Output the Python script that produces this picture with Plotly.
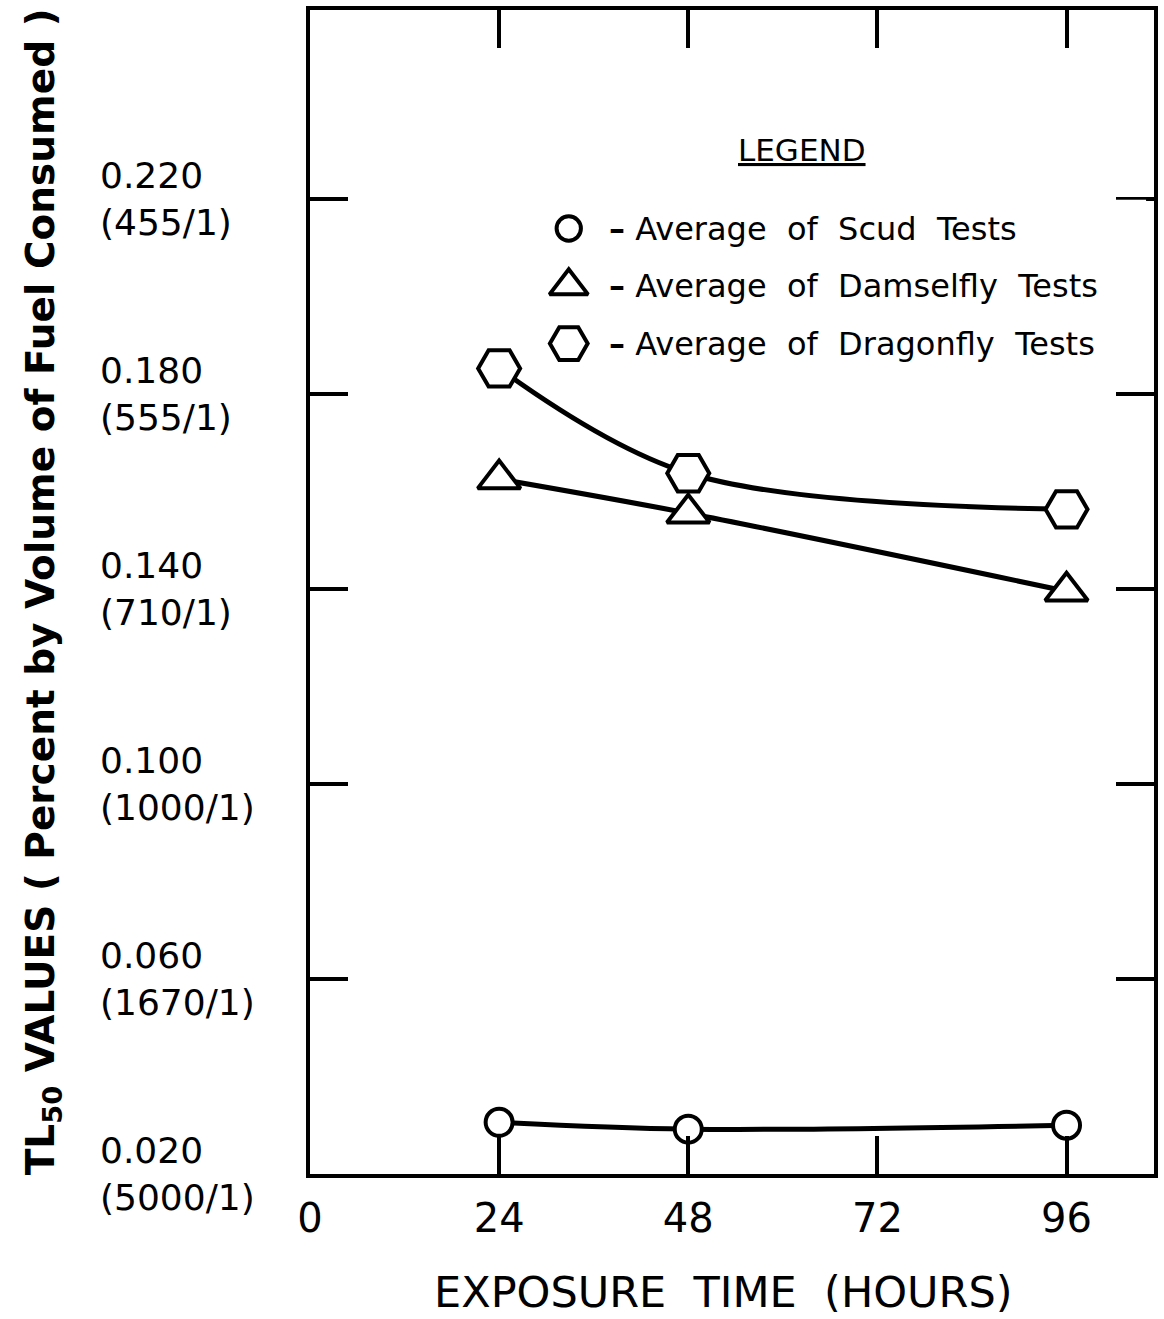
import plotly.graph_objects as go

# ---------------- data ----------------
hours = [24, 48, 96]
scud = [0.0306, 0.0292, 0.0300]
damselfly = [0.1625, 0.1555, 0.1395]
dragonfly = [0.1852, 0.1637, 0.1563]

series_names = ["Average of Scud Tests",
                "Average of Damselfly Tests",
                "Average of Dragonfly Tests"]

x_tick_vals = [0, 24, 48, 72, 96]
x_tick_text = ["0", "24", "48", "72", "96"]

y_tick_vals = [0.020, 0.060, 0.100, 0.140, 0.180, 0.220]
y_tick_text = ["0.020<br>(5000/1)", "0.060<br>(1670/1)", "0.100<br>(1000/1)",
               "0.140<br>(710/1)", "0.180<br>(555/1)", "0.220<br>(455/1)"]

x_title = "EXPOSURE  TIME  (HOURS)"
y_title = "TL<sub>50</sub> VALUES ( Percent by Volume of Fuel Consumed )"
legend_title = "LEGEND"

# ---------------- style ----------------
FONT = "DejaVu Sans"
INK = "black"
symbols = ["circle", "triangle-up", "hexagon2"]
sizes = [27, 37, 42]
series_values = [scud, damselfly, dragonfly]

fig = go.Figure()

for vals, sym, sz, name in zip(series_values, symbols, sizes, series_names):
    fig.add_trace(go.Scatter(
        x=hours, y=vals, mode="lines+markers", name=name,
        line=dict(color=INK, width=5, shape="spline", smoothing=1),
        marker=dict(symbol=sym, size=sz, color="white",
                    line=dict(color=INK, width=4)),
        showlegend=False, cliponaxis=False,
    ))

# legend keys drawn on an overlay category axis
for sym, sz, name in zip(symbols, sizes, series_names):
    fig.add_trace(go.Scatter(
        x=[0], y=[name], xaxis="x2", yaxis="y2", mode="markers",
        marker=dict(symbol=sym, size=sz * 0.9, color="white",
                    line=dict(color=INK, width=4)),
        showlegend=False, hoverinfo="skip", cliponaxis=False,
    ))

annotations = []
for name in series_names:
    annotations.append(dict(
        x=1.9, y=name, xref="x2", yref="y2", xanchor="left", yanchor="middle",
        text="<b>\u2013</b> " + name.replace(" ", "  "), showarrow=False,
        font=dict(family=FONT, size=32, color=INK),
    ))

annotations.append(dict(
    x=0.5825, y=0.88, xref="paper", yref="paper", xanchor="center", yanchor="middle",
    text="<u>" + legend_title + "</u>", showarrow=False,
    font=dict(family=FONT, size=31, color=INK),
))

for v, t in zip(y_tick_vals, y_tick_text):
    annotations.append(dict(
        x=-0.2512, y=v, xref="paper", yref="y", xanchor="left", yanchor="middle",
        align="left", text=t, showarrow=False,
        font=dict(family=FONT, size=36, color=INK),
    ))

annotations.append(dict(
    x=-0.316, y=0.5, xref="paper", yref="paper", xanchor="center", yanchor="middle",
    textangle=-90, text="<b>" + y_title + "</b>", showarrow=False,
    font=dict(family=FONT, size=39, color=INK),
))

annotations.append(dict(
    x=0.4894, y=-0.1012, xref="paper", yref="paper", xanchor="center", yanchor="middle",
    text=x_title, showarrow=False,
    font=dict(family=FONT, size=43, color=INK),
))

axis_common = dict(
    showline=True, linewidth=4, linecolor=INK, mirror="ticks",
    ticks="inside", ticklen=38, tickwidth=4, tickcolor=INK,
    showgrid=False, zeroline=False,
)

fig.update_layout(
    width=1164, height=1319, autosize=False,
    margin=dict(l=310, r=6, t=8, b=145),
    paper_bgcolor="white", plot_bgcolor="white",
    showlegend=False,
    xaxis=dict(range=[0, 107.1], tickvals=x_tick_vals, ticktext=x_tick_text,
               ticklabelstandoff=6,
               tickfont=dict(family=FONT, size=40, color=INK), **axis_common),
    yaxis=dict(range=[0.020, 0.2587], tickvals=y_tick_vals, showticklabels=False,
               **axis_common),
    xaxis2=dict(domain=[0.283, 0.9906], range=[-1, 29], visible=False, anchor="y2"),
    yaxis2=dict(domain=[0.6887, 0.8370], type="category",
                categoryorder="array", categoryarray=series_names,
                range=[len(series_names) - 0.5, -0.5], visible=False, anchor="x2"),
    annotations=annotations,
)

fig.write_html("out.html")
